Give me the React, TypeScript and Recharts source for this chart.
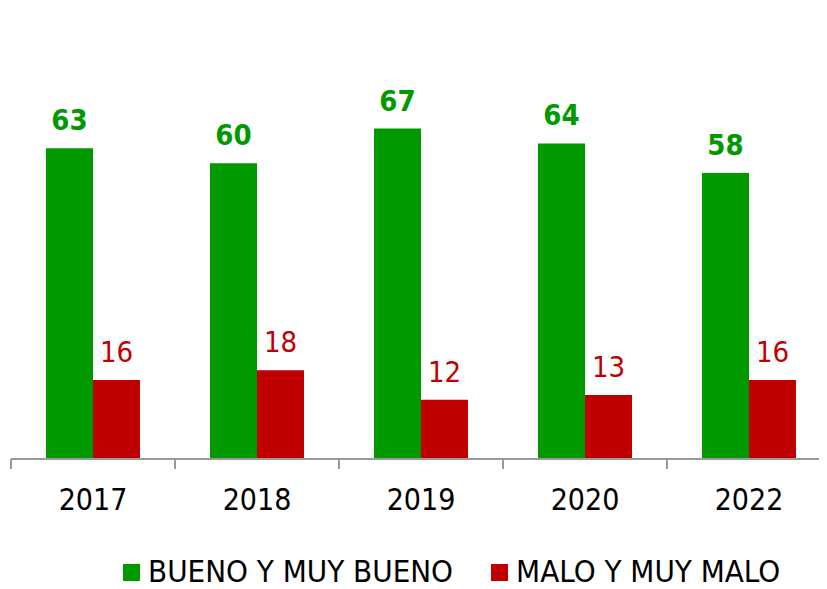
import React from "react";
import { BarChart, Bar, XAxis, YAxis, LabelList } from "recharts";

const years = ["2017", "2018", "2019", "2020", "2022"];
const buenoValues = [63, 60, 67, 64, 58];
const maloValues = [16, 18, 12, 13, 16];
const seriesNames = ["BUENO Y MUY BUENO", "MALO Y MUY MALO"];
const seriesColors = ["#009900", "#C00000"];

const data = years.map((y, i) => ({ year: y, bueno: buenoValues[i], malo: maloValues[i] }));

const FONT = "'DejaVu Sans Condensed', 'DejaVu Sans', sans-serif";
const AXIS_COLOR = "#999999";

const makeLabel = (color: string, bold: boolean) => (props: any) => {
  const { x, y, width, value } = props;
  return (
    <text
      x={Number(x) + Number(width) / 2}
      y={Number(y) - 18}
      textAnchor="middle"
      fill={color}
      fontFamily={FONT}
      fontStretch="condensed"
      fontSize={29}
      fontWeight={bold ? "bold" : "normal"}
    >
      {value}
    </text>
  );
};

const YearTick = (props: any) => {
  const { x, y, payload, index, visibleTicksCount } = props;
  const half = Number(payload?.offset) || 0;
  const xs = [Number(x) - half];
  if (index === visibleTicksCount - 1) xs.push(Number(x) + half);
  return (
    <g>
      {xs.map((lx, i) => (
        <line key={i} x1={lx} x2={lx} y1={Number(y)} y2={Number(y) + 10} stroke={AXIS_COLOR} strokeWidth={2} />
      ))}
      <text
        x={x}
        y={Number(y) + 51}
        textAnchor="middle"
        fill="#000"
        fontFamily={FONT}
        fontStretch="condensed"
        fontSize={30}
      >
        {payload.value}
      </text>
    </g>
  );
};

export default function App() {
  return (
    <div style={{ position: "relative", width: 822, height: 581 }}>
      <BarChart
        width={823}
        height={581}
        data={data}
        margin={{ top: 56.5, right: 0, left: 3, bottom: 0 }}
        barCategoryGap={35}
        barGap={0}
      >
        <XAxis
          dataKey="year"
          height={130}
          axisLine={{ stroke: AXIS_COLOR, strokeWidth: 2 }}
          tickLine={false}
          tickSize={0}
          tickMargin={0}
          tick={<YearTick />}
          interval={0}
        />
        <YAxis hide domain={[0, 80]} />
        <Bar dataKey="bueno" name={seriesNames[0]} fill={seriesColors[0]} isAnimationActive={false}>
          <LabelList dataKey="bueno" content={makeLabel(seriesColors[0], true)} />
        </Bar>
        <Bar dataKey="malo" name={seriesNames[1]} fill={seriesColors[1]} isAnimationActive={false}>
          <LabelList dataKey="malo" content={makeLabel(seriesColors[1], false)} />
        </Bar>
      </BarChart>
      <div
        style={{
          position: "absolute",
          left: 115,
          top: 544.5,
          display: "flex",
          alignItems: "center",
          fontFamily: FONT,
          fontStretch: "condensed",
          fontSize: 31,
          lineHeight: "normal",
          color: "#000",
          whiteSpace: "nowrap",
        }}
      >
        {seriesNames.map((n, i) => (
          <div key={n} style={{ display: "flex", alignItems: "center", marginRight: i === 0 ? 38 : 0 }}>
            <div
              style={{
                width: 17,
                height: 17,
                background: seriesColors[i],
                marginRight: 8,
                position: "relative",
                top: 2,
              }}
            />
            <span>{n}</span>
          </div>
        ))}
      </div>
    </div>
  );
}
